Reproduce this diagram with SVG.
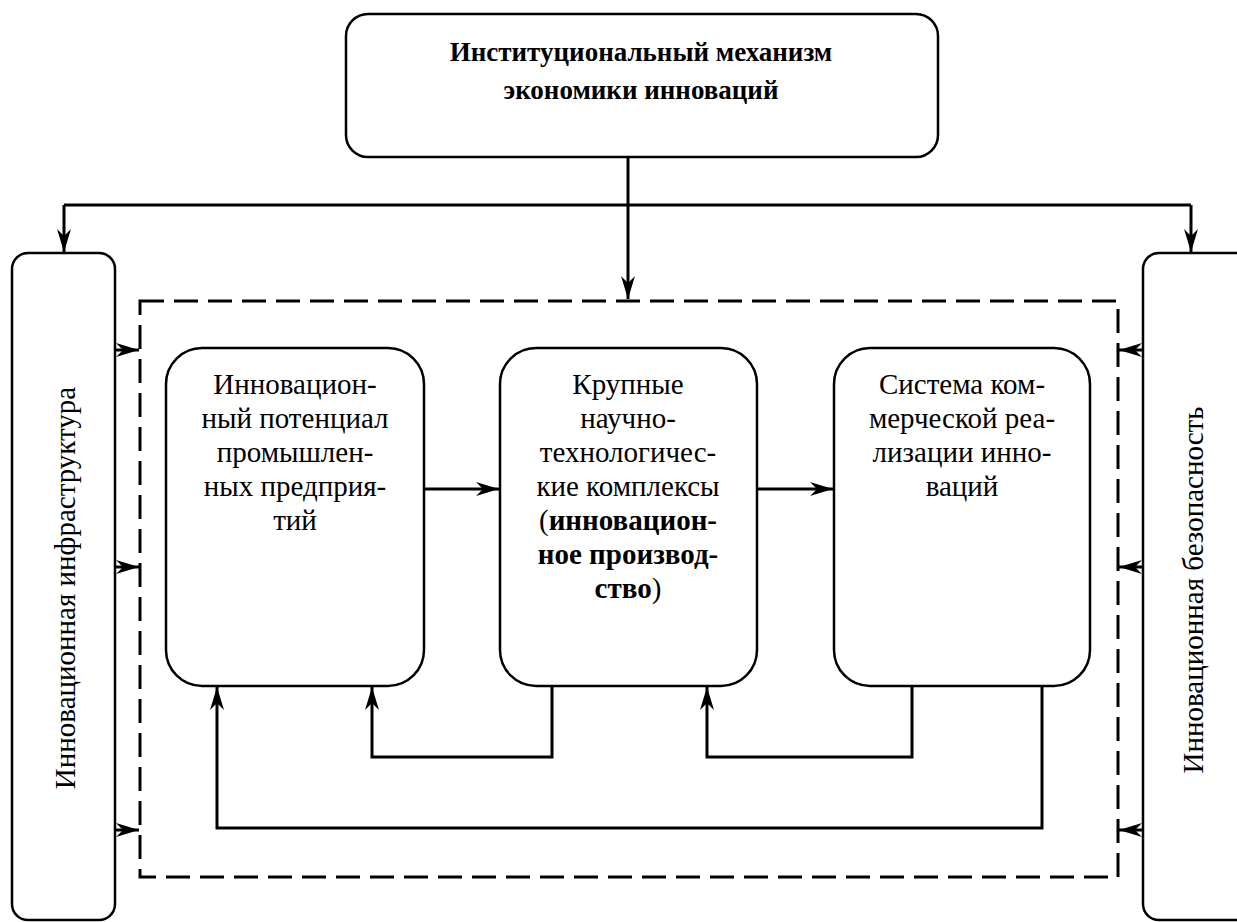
<svg xmlns="http://www.w3.org/2000/svg" width="1237" height="922" viewBox="0 0 1237 922">
<defs>
<marker id="ah" viewBox="-24 -8 26 16" refX="0" refY="0" markerWidth="26" markerHeight="16" markerUnits="userSpaceOnUse" orient="auto">
<path d="M0,0 L-23,-7 L-16,0 L-23,7 Z" fill="#000"/>
</marker>
</defs>
<style>
.box{fill:#fff;stroke:#000;stroke-width:2.5}
.dash{fill:none;stroke:#000;stroke-width:3;stroke-dasharray:24 10}
.c{fill:none;stroke:#000;stroke-width:3}
.a{marker-end:url(#ah)}
.t{font-size:29px;text-anchor:middle;fill:#000}
.h{font-size:27px;font-weight:bold;text-anchor:middle;fill:#000}
.b{font-weight:bold}
</style>
<rect width="1237" height="922" fill="#fff"/>
<g id="connectors">
<path class="c a" d="M628,157 V299"/>
<path class="c" d="M64,205 H1191"/>
<path class="c a" d="M64,205 V252"/>
<path class="c a" d="M1191,205 V252"/>
<path class="c a" d="M115,350 H139"/>
<path class="c a" d="M115,567 H139"/>
<path class="c a" d="M115,830 H139"/>
<path class="c a" d="M1143,350 H1119"/>
<path class="c a" d="M1143,567 H1119"/>
<path class="c a" d="M1143,830 H1119"/>
<path class="c a" d="M424,489 H499"/>
<path class="c a" d="M757,489 H833"/>
<path class="c a" d="M552,686 V757 H372 V687"/>
<path class="c a" d="M912,686 V757 H707 V687"/>
<path class="c a" d="M1042,686 V828 H217 V687"/>
</g>
<g font-family="'Liberation Serif', 'Times New Roman', serif">
<g id="top">
<rect class="box" x="346" y="14" width="592" height="143" rx="22"/>
<text class="h" x="641" y="61">Институциональный механизм</text>
<text class="h" x="641" y="99">экономики инноваций</text>
</g>
<g id="left">
<rect class="box" x="12" y="253" width="103" height="667" rx="16"/>
<text class="t" transform="translate(75,588) rotate(-90)">Инновационная инфраструктура</text>
</g>
<g id="right">
<rect class="box" x="1143" y="253" width="130" height="667" rx="16"/>
<text class="t" transform="translate(1203,590) rotate(-90)">Инновационная безопасность</text>
</g>
<g id="frame">
<rect class="dash" x="140" y="301" width="978" height="576"/>
</g>
<g id="n1">
<rect class="box" x="166" y="348" width="258" height="338" rx="36"/>
<text class="t" x="295" y="394">Инновацион-</text>
<text class="t" x="295" y="428">ный потенциал</text>
<text class="t" x="295" y="462">промышлен-</text>
<text class="t" x="295" y="496">ных предприя-</text>
<text class="t" x="295" y="530">тий</text>
</g>
<g id="n2">
<rect class="box" x="500" y="348" width="257" height="338" rx="36"/>
<text class="t" x="628" y="394">Крупные</text>
<text class="t" x="628" y="428">научно-</text>
<text class="t" x="628" y="462">технологичес-</text>
<text class="t" x="628" y="496">кие комплексы</text>
<text class="t" x="628" y="530">(<tspan class="b">инновацион-</tspan></text>
<text class="t b" x="628" y="564">ное производ-</text>
<text class="t" x="628" y="598"><tspan class="b">ство</tspan>)</text>
</g>
<g id="n3">
<rect class="box" x="834" y="348" width="256" height="338" rx="36"/>
<text class="t" x="962" y="394">Система ком-</text>
<text class="t" x="962" y="428">мерческой реа-</text>
<text class="t" x="962" y="462">лизации инно-</text>
<text class="t" x="962" y="496">ваций</text>
</g>
</g>
</svg>
